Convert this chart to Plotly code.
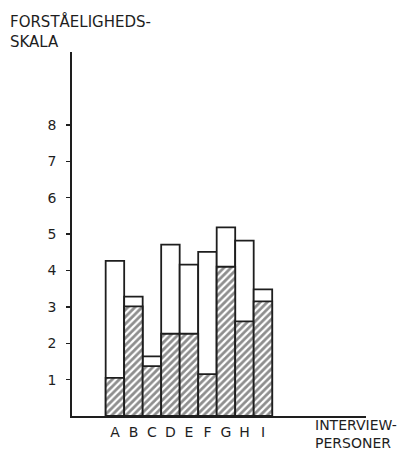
import plotly.graph_objects as go

categories = ["A", "B", "C", "D", "E", "F", "G", "H", "I"]
total_values = [4.26, 3.28, 1.64, 4.71, 4.16, 4.51, 5.18, 4.82, 3.48]
hatched_values = [1.05, 3.01, 1.37, 2.26, 2.26, 1.15, 4.10, 2.60, 3.15]
y_ticks = [1, 2, 3, 4, 5, 6, 7, 8]

ink = "#1e1e1e"
font_family = "DejaVu Sans"

fig = go.Figure()
fig.add_trace(go.Bar(
    x=categories, y=total_values, width=1,
    marker=dict(color="white", line=dict(color=ink, width=1.8)),
    showlegend=False, hoverinfo="skip",
))
fig.add_trace(go.Bar(
    x=categories, y=hatched_values, width=1,
    marker=dict(color="white", line=dict(color=ink, width=1.8),
                pattern=dict(shape="/", fgcolor=ink, bgcolor="white", size=5, solidity=0.55)),
    showlegend=False, hoverinfo="skip",
))

W, H = 419, 452
L, R, T, B = 72, 53, 52, 33
pw, ph = W - L - R, H - T - B

def px(x):
    return (x - L) / pw

def py(y):
    return (H - B - y) / ph

fig.update_layout(
    width=W, height=H,
    margin=dict(l=L, r=R, t=T, b=B, pad=0),
    barmode="overlay", bargap=0,
    plot_bgcolor="white", paper_bgcolor="white",
    font=dict(family=font_family, color=ink, size=13),
    xaxis=dict(
        type="category", range=[-2.32, 13.57],
        showline=True, linecolor=ink, linewidth=1.8,
        showgrid=False, zeroline=False, ticks="",
        tickfont=dict(size=14), ticklabelstandoff=2,
    ),
    yaxis=dict(
        range=[0, 10], tickvals=y_ticks, ticktext=[str(v) for v in y_ticks],
        showline=True, linecolor=ink, linewidth=1.8,
        showgrid=False, zeroline=False,
        ticks="outside", ticklen=4, tickwidth=1.4, tickcolor=ink,
        tickfont=dict(size=14), ticklabelstandoff=7,
    ),
    annotations=[
        dict(text="FORSTÅELIGHEDS-<br>SKALA", xref="paper", yref="paper",
             x=px(8), y=py(31), xanchor="left", yanchor="middle", align="left",
             showarrow=False, font=dict(size=15, family=font_family, color=ink)),
        dict(text="INTERVIEW-<br>PERSONER", xref="paper", yref="paper",
             x=px(313), y=py(437), xanchor="left", yanchor="middle", align="left",
             showarrow=False, font=dict(size=14, family=font_family, color=ink)),
    ],
)

fig.write_html(
    "out.html",
    config={"displayModeBar": False, "staticPlot": True},
    post_script="document.body.style.margin='0';document.body.style.padding='0';",
)
